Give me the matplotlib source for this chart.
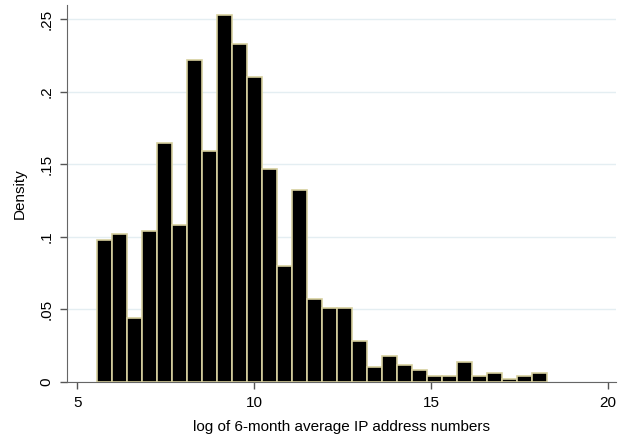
import matplotlib.pyplot as plt
import numpy as np

plt.rcParams['font.family'] = ['Liberation Sans', 'DejaVu Sans']

# histogram bins (30 bins)
bin_start = 5.55
bin_width = 0.4236
densities = [0.098, 0.102, 0.044, 0.104, 0.165, 0.108, 0.222, 0.159, 0.253, 0.233,
             0.210, 0.147, 0.080, 0.132, 0.057, 0.051, 0.051, 0.028, 0.010, 0.018,
             0.012, 0.008, 0.004, 0.004, 0.014, 0.004, 0.006, 0.002, 0.004, 0.006]
x_ticks = [5, 10, 15, 20]
y_ticks = [0, 0.05, 0.10, 0.15, 0.20, 0.25]
y_labels = ['0', '.05', '.1', '.15', '.2', '.25']

edges = bin_start + bin_width * np.arange(len(densities))

fig = plt.figure(figsize=(6.21, 4.38), dpi=100)
ax = fig.add_axes([0.108, 0.128, 0.884, 0.861])

ax.bar(edges, densities, width=bin_width, align='edge',
       color='black', edgecolor='#d6cf9e', linewidth=1.2, zorder=3)

ax.set_xlim(4.71, 20.22)
ax.set_ylim(0, 0.26)
ax.set_xticks(x_ticks)
ax.set_yticks(y_ticks)
ax.set_yticklabels(y_labels, rotation=90, va='center')
ax.tick_params(labelsize=11, length=5, color='#555555', width=1, pad=5)
ax.grid(axis='y', color='#e4eef2', linewidth=1, zorder=0)

for s in ['top', 'right']:
    ax.spines[s].set_visible(False)
for s in ['left', 'bottom']:
    ax.spines[s].set_color('#666666')

ax.set_xlabel('log of 6-month average IP address numbers', fontsize=11, labelpad=7)
ax.set_ylabel('Density', fontsize=11, labelpad=9)

fig.savefig('out.png', dpi=100)
